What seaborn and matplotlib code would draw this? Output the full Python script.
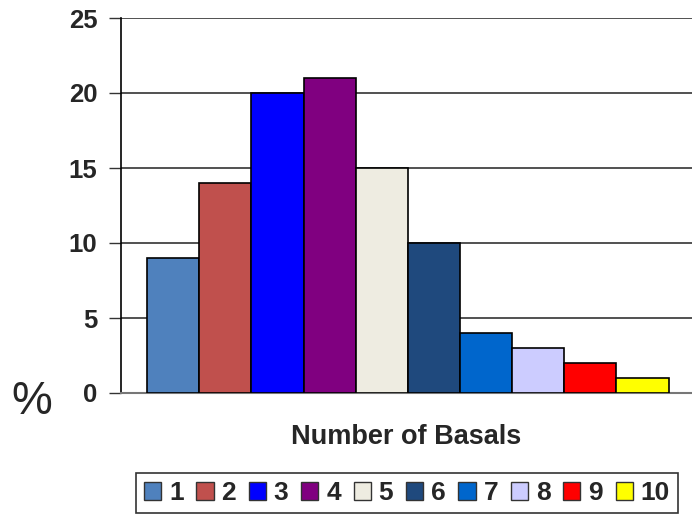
import pandas as pd
import matplotlib.pyplot as plt
import seaborn as sns
from matplotlib.patches import Patch

basals = ["1", "2", "3", "4", "5", "6", "7", "8", "9", "10"]
percent = [9, 14, 20, 21, 15, 10, 4, 3, 2, 1]
colors = ["#4F81BD", "#C0504D", "#0000FF", "#800080", "#EEECE1",
          "#1F497D", "#0066CC", "#CCCCFF", "#FF0000", "#FFFF00"]

df = pd.DataFrame({"Basals": basals, "Percent": percent})

sns.set_style("white")
plt.rcParams["font.family"] = ["Liberation Sans", "DejaVu Sans"]
plt.rcParams["font.weight"] = "bold"

fig = plt.figure(figsize=(6.92, 5.15), dpi=100)
ax = fig.add_axes([121 / 692, 1 - 393 / 515, 1 - 121 / 692, (393 - 18) / 515])

sns.barplot(data=df, x="Basals", y="Percent", hue="Basals", palette=colors,
            saturation=1, dodge=False, width=1.0, edgecolor="black",
            linewidth=1.2, legend=False, ax=ax, zorder=3)

ax.set_xlim(-1.0, 9.95)
ax.set_ylim(0, 25)
ax.set_yticks([0, 5, 10, 15, 20, 25])
ax.yaxis.grid(True, color="#333333", linewidth=1.2, zorder=0)
ax.set_axisbelow(True)
ax.tick_params(axis="y", labelsize=18.5, length=9, width=1, color="#333333",
               pad=8, direction="out", left=True)
ax.tick_params(axis="x", bottom=False, labelbottom=False)
for lbl in ax.get_yticklabels():
    lbl.set_fontweight("bold")

for side in ["top", "right"]:
    ax.spines[side].set_visible(False)
ax.spines["left"].set_color("black")
ax.spines["left"].set_linewidth(1.2)
ax.spines["bottom"].set_color("#777777")
ax.spines["bottom"].set_linewidth(1.5)

ax.set_ylabel("")
ax.set_xlabel("Number of Basals", fontsize=19.5, fontweight="bold", labelpad=22)
fig.text(32 / 692, 1 - 402 / 515, "%", fontsize=33, fontweight="normal",
         ha="center", va="center")

handles = [Patch(facecolor=c, edgecolor="#333333", linewidth=1) for c in colors]
leg = fig.legend(handles, basals, loc="center", ncol=10,
                 bbox_to_anchor=(407 / 692, 1 - 493 / 515),
                 prop={"size": 19, "weight": "bold"},
                 handlelength=0.65, handleheight=0.65, handletextpad=0.3,
                 columnspacing=0.48, frameon=True, fancybox=False,
                 edgecolor="black", borderpad=0.3, borderaxespad=0)
leg.get_frame().set_linewidth(1.2)

fig.savefig("out.png", dpi=100)
